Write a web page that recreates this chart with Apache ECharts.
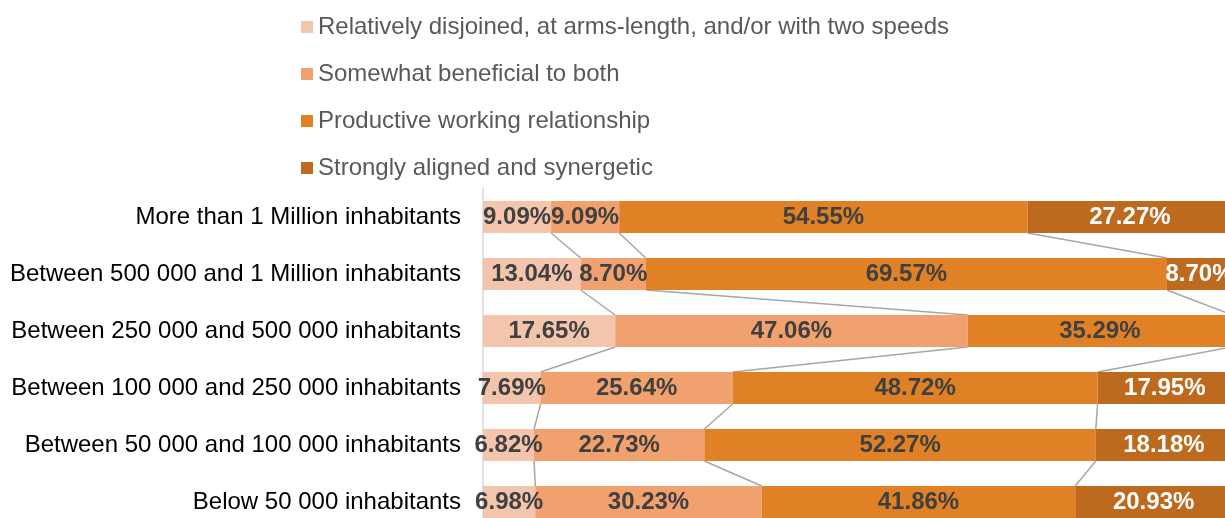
<!DOCTYPE html>
<html>
<head>
<meta charset="utf-8">
<script src="https://cdn.jsdelivr.net/npm/echarts@6/dist/echarts.min.js"></script>
<style>html,body{margin:0;padding:0;background:#fff;}#chart{width:1225px;height:518px;}</style>
</head>
<body>
<div id="chart"></div>
<script>
const categories = [
  'More than 1 Million inhabitants',
  'Between 500 000 and 1 Million inhabitants',
  'Between 250 000 and 500 000 inhabitants',
  'Between 100 000 and 250 000 inhabitants',
  'Between 50 000 and 100 000 inhabitants',
  'Below 50 000 inhabitants'
];
const seriesNames = [
  'Relatively disjoined, at arms-length, and/or with two speeds',
  'Somewhat beneficial to both',
  'Productive working relationship',
  'Strongly aligned and synergetic'
];
const disjoined  = [9.09, 13.04, 17.65, 7.69, 6.82, 6.98];
const somewhat   = [9.09, 8.70, 47.06, 25.64, 22.73, 30.23];
const productive = [54.55, 69.57, 35.29, 48.72, 52.27, 41.86];
const strongly   = [27.27, 8.70, 0, 17.95, 18.18, 20.93];

const values = [disjoined, somewhat, productive, strongly];
const colors = ['#F4C5AD', '#F0A16E', '#E08126', '#BD6A1F'];
const labelColors = ['#404040', '#404040', '#404040', '#FFFFFF'];
const BAR_H = 32;

function cum(row, k) {
  let s = 0;
  for (let j = 0; j <= k; j++) s += values[j][row];
  return s;
}

const barSeries = values.map((arr, k) => ({
  name: seriesNames[k],
  type: 'bar',
  stack: 'total',
  barWidth: BAR_H,
  data: arr,
  itemStyle: { color: colors[k] },
  label: {
    show: true,
    position: 'inside',
    color: labelColors[k],
    fontFamily: 'Liberation Sans, Arial, sans-serif',
    fontWeight: 'bold',
    fontSize: 24,
    formatter: p => p.value > 0 ? p.value.toFixed(2) + '%' : ''
  },
  emphasis: { disabled: true }
}));

const pairData = [];
for (let i = 0; i < categories.length - 1; i++) pairData.push([0, i]);

const seriesLines = {
  type: 'custom',
  coordinateSystem: 'cartesian2d',
  silent: true,
  z: 1,
  data: pairData,
  encode: { x: 0, y: 1 },
  renderItem: function (params, api) {
    const i = api.value(1);
    const children = [];
    for (let k = 0; k < values.length - 1; k++) {
      const a = api.coord([cum(i, k), i]);
      const b = api.coord([cum(i + 1, k), i + 1]);
      children.push({
        type: 'line',
        shape: { x1: a[0], y1: a[1] + BAR_H / 2, x2: b[0], y2: b[1] - BAR_H / 2 },
        style: { stroke: '#A6A6A6', lineWidth: 1.5 }
      });
    }
    return { type: 'group', children: children };
  }
};

const chart = echarts.init(document.getElementById('chart'));
chart.setOption({
  animation: false,
  backgroundColor: '#fff',
  legend: {
    orient: 'vertical',
    left: 301,
    top: 15,
    padding: 0,
    itemWidth: 12,
    itemHeight: 12,
    itemGap: 23,
    icon: 'rect',
    data: seriesNames,
    selectedMode: false,
    textStyle: {
      fontFamily: 'Liberation Sans, Arial, sans-serif',
      fontSize: 24,
      lineHeight: 24,
      color: '#595959'
    }
  },
  grid: { left: 483, top: 188.5, width: 749, height: 342, containLabel: false, outerBoundsMode: 'none' },
  xAxis: {
    type: 'value',
    min: 0,
    max: 100,
    show: false
  },
  yAxis: {
    type: 'category',
    inverse: true,
    data: categories,
    axisLine: { show: true, lineStyle: { color: '#D9D9D9', width: 1.5 } },
    axisTick: { show: false },
    axisLabel: {
      margin: 22,
      color: '#000000',
      fontFamily: 'Liberation Sans, Arial, sans-serif',
      fontSize: 24
    }
  },
  series: barSeries.concat([seriesLines])
});
</script>
</body>
</html>
